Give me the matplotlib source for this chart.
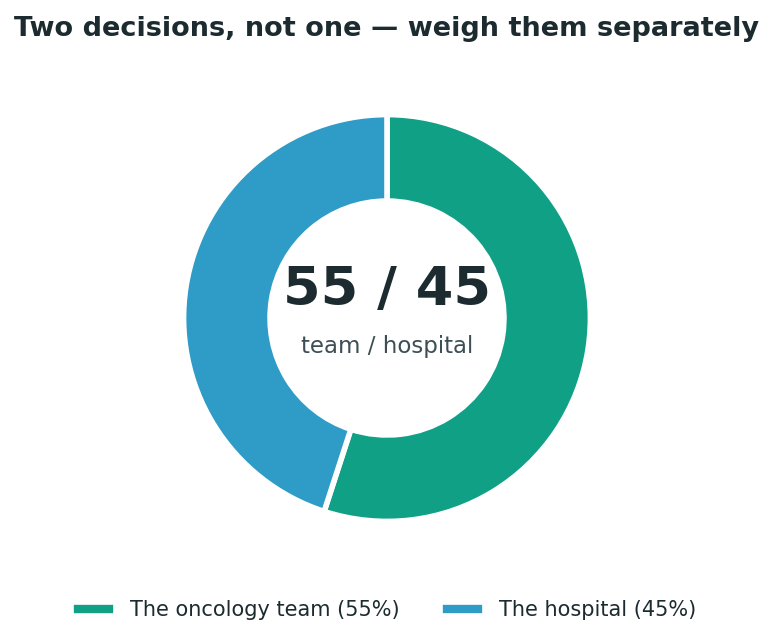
import matplotlib
matplotlib.use('Agg')
import matplotlib.pyplot as plt
from matplotlib.lines import Line2D

labels = ['The oncology team (55%)', 'The hospital (45%)']
shares = [55, 45]
colors = ['#0fa086', '#2e9cc7']
title = 'Two decisions, not one \u2014 weigh them separately'
center_big = '55 / 45'
center_small = 'team / hospital'

fig = plt.figure(figsize=(7.74, 6.44), dpi=100)
fig.patch.set_facecolor('white')

# donut axes placed so the ring sits where it does in the reference
ax = fig.add_axes([186/774, 125/644, 402/774, 402/644])
ax.pie(shares, colors=colors, startangle=90, counterclock=False, radius=1.012,
       wedgeprops=dict(width=0.43, edgecolor='white', linewidth=4))
ax.set_xlim(-1, 1)
ax.set_ylim(-1, 1)
ax.set_aspect('equal')
ax.axis('off')

ax.text(0, 0.14, center_big, ha='center', va='center', fontsize=39,
        fontweight='bold', color='#1c2b2f')
ax.text(0, -0.14, center_small, ha='center', va='center', fontsize=16.5,
        color='#3d4f55')

fig.suptitle(title, x=0.5, y=0.975, fontsize=19.5, fontweight='bold',
             color='#1c2b2f', va='top')

handles = [Line2D([0], [0], color=c, lw=6) for c in colors]
fig.legend(handles, labels, loc='center', bbox_to_anchor=(0.5, 1 - 610/644),
           ncol=2, frameon=False, fontsize=15, handlelength=1.5,
           handletextpad=1.0, columnspacing=2.3, labelcolor='#1c2b2f')

fig.savefig('out.png', dpi=100, facecolor='white')
